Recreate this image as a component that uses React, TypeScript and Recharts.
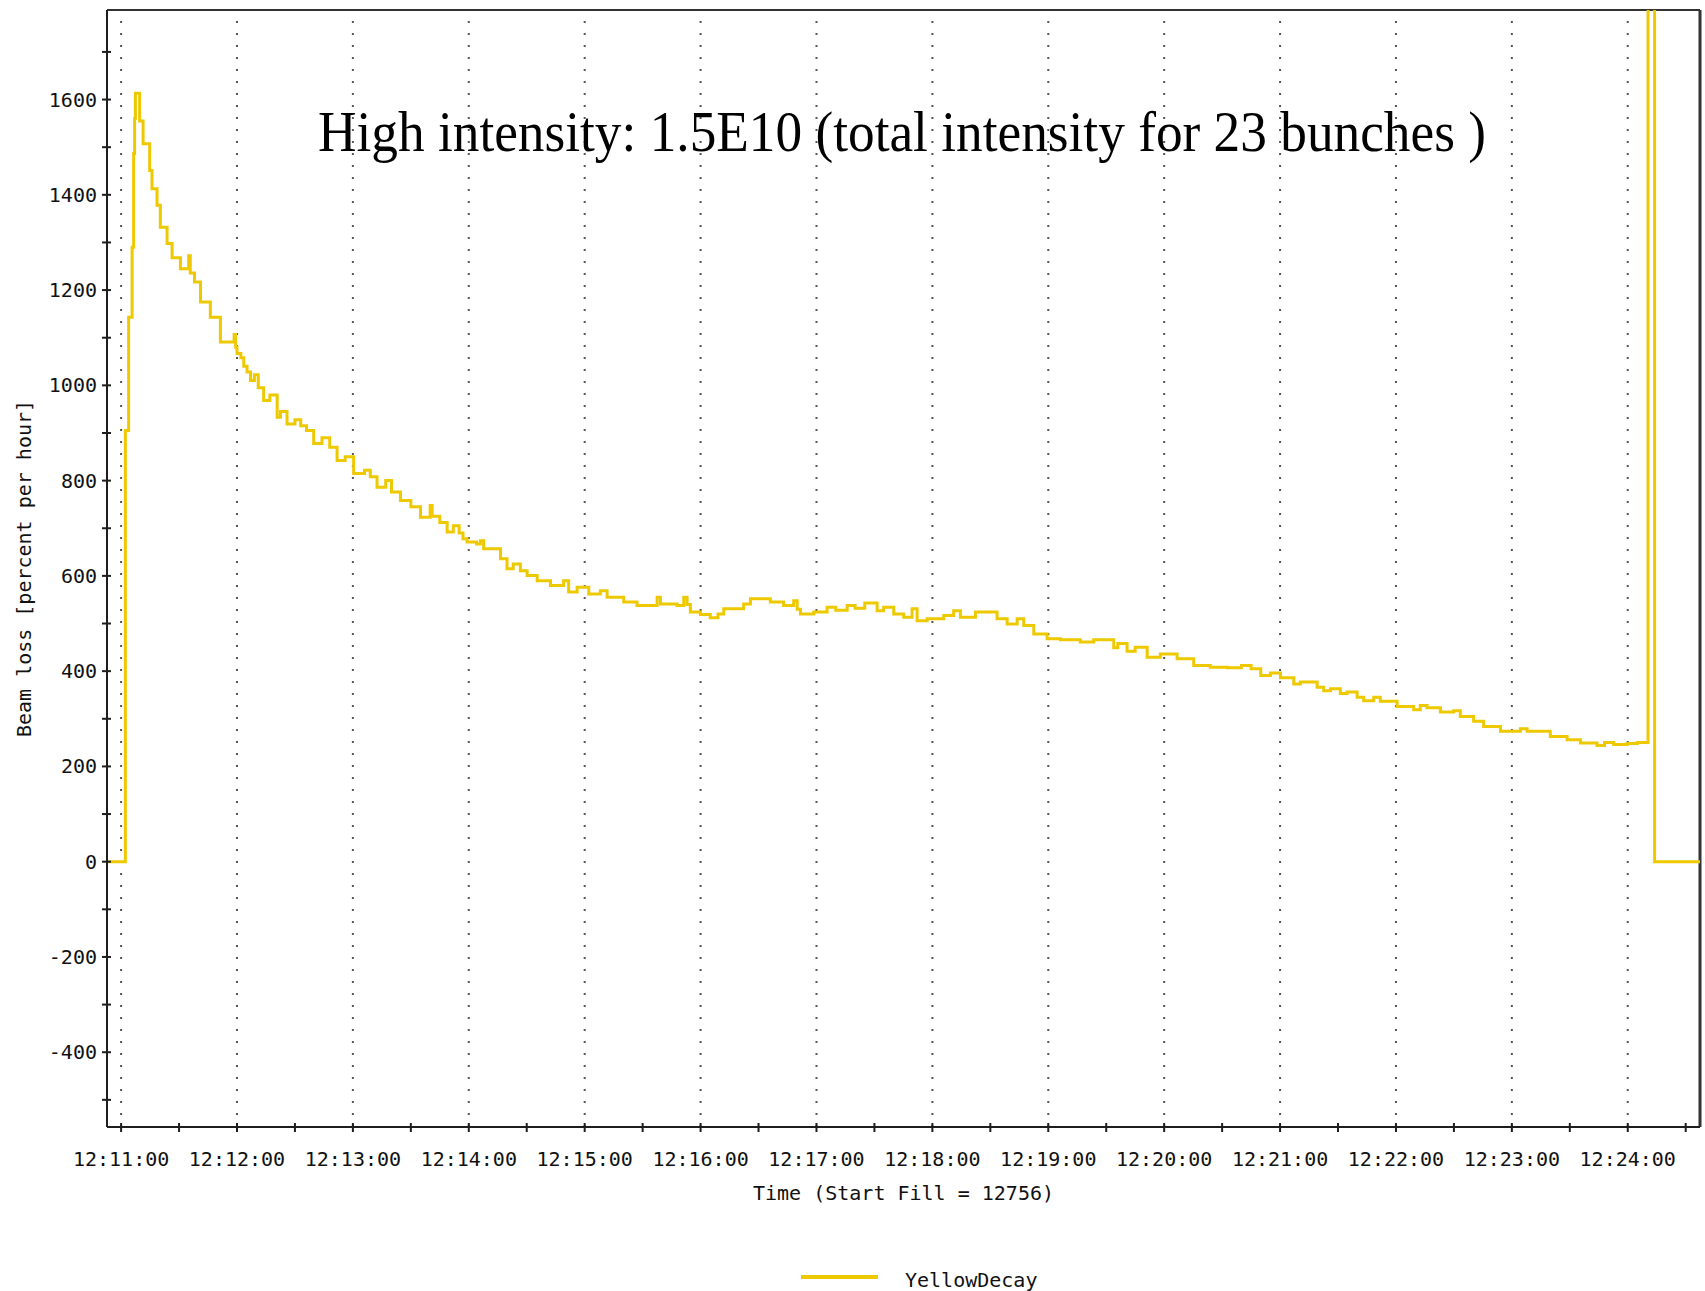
import { Label, Legend, Line, LineChart, ReferenceLine, XAxis, YAxis } from "recharts";

// seconds after 12:11:00 and beam loss [%/h] (step trace)
const TIME_S = [
  -7.3, 2.2, 3.9, 5.7, 6.5, 7.0, 7.4, 9.6, 11.4, 14.8, 16.0, 18.6, 20.3, 23.8, 26.4, 30.7,
  35.0, 35.8, 38.0, 41.1, 46.2, 51.4, 58.5, 59.3, 60.0, 62.0, 63.5, 65.2, 67.0, 69.0, 71.0,
  73.8, 77.0, 80.8, 82.5, 85.9, 90.0, 93.0, 96.0, 99.7, 104.0, 108.0, 111.8, 116.0, 120.4,
  126.0, 129.0, 132.5, 137.0, 140.0, 144.6, 150.0, 155.0, 160.0, 161.0, 165.0, 168.8, 172.0,
  175.0, 177.0, 179.1, 184.0, 186.0, 187.7, 196.4, 199.8, 203.0, 206.7, 210.2, 215.4, 222.3,
  229.1, 231.7, 236.1, 242.1, 248.1, 251.6, 260.2, 267.1, 277.5, 279.2, 287.8, 291.3, 293.0,
  294.7, 299.9, 305.0, 309.0, 312.0, 322.3, 325.8, 336.1, 343.0, 348.2, 350.0, 351.7, 358.6,
  365.5, 370.0, 375.9, 380.0, 385.0, 391.4, 394.8, 400.0, 405.2, 409.5, 412.1, 417.3, 425.9,
  431.0, 434.5, 442.3, 453.5, 458.7, 463.9, 467.3, 472.5, 479.4, 486.3, 496.6, 503.5, 513.9,
  516.0, 520.8, 525.0, 531.2, 538.0, 546.7, 555.3, 563.9, 572.6, 580.0, 585.0, 590.0, 595.0,
  600.2, 607.1, 610.5, 619.2, 622.6, 626.1, 631.2, 634.7, 639.9, 643.3, 648.5, 651.9, 660.6,
  669.2, 672.6, 676.1, 683.0, 689.9, 693.3, 700.2, 705.4, 714.1, 724.4, 727.9, 739.9, 748.6,
  755.5, 764.1, 768.0, 772.7, 779.7, 785.0, 790.5, 793.9, 817.4,
];
const BEAM_LOSS = [
  0, 905, 1143, 1290, 1487, 1560, 1613, 1555, 1507, 1451, 1413, 1378, 1332, 1298, 1268, 1245,
  1272, 1236, 1217, 1175, 1143, 1091, 1107, 1080, 1067, 1058, 1040, 1028, 1010, 1022, 995,
  968, 980, 933, 945, 919, 928, 915, 905, 878, 890, 870, 842, 850, 815,
  822, 808, 786, 800, 776, 758, 745, 723, 748, 725, 712, 692, 705,
  690, 678, 671, 667, 674, 657, 636, 615, 625, 611, 601, 590, 580,
  590, 566, 576, 562, 569, 555, 545, 538, 555, 541, 538, 555, 540,
  524, 519, 512, 520, 531, 541, 552, 545, 538, 548, 530, 520, 524,
  534, 528, 538, 532, 543, 527, 534, 520, 513, 531, 506, 510, 517,
  527, 513, 524, 510, 499, 510, 496, 478, 468, 466, 461, 466, 449,
  458, 442, 450, 429, 436, 426, 412, 408, 407, 412, 405, 391, 396,
  386, 373, 377, 366, 359, 363, 353, 356, 345, 338, 345, 337, 326,
  319, 328, 323, 314, 317, 305, 295, 284, 274, 279, 274, 263, 256,
  249, 244, 250, 246, 248, 250, 2400, 0, 0,
];

const MINUTE_TICKS = [0, 60, 120, 180, 240, 300, 360, 420, 480, 540, 600, 660, 720, 780];
const TIME_LABELS = [
  "12:11:00", "12:12:00", "12:13:00", "12:14:00", "12:15:00", "12:16:00", "12:17:00",
  "12:18:00", "12:19:00", "12:20:00", "12:21:00", "12:22:00", "12:23:00", "12:24:00",
];
const X_TICKS = [
  0, 30, 60, 90, 120, 150, 180, 210, 240, 270, 300, 330, 360, 390, 420, 450, 480, 510, 540,
  570, 600, 630, 660, 690, 720, 750, 780, 810,
];
const Y_TICKS = [
  -500, -400, -300, -200, -100, 0, 100, 200, 300, 400, 500, 600, 700, 800, 900, 1000, 1100,
  1200, 1300, 1400, 1500, 1600, 1700,
];

const X_DOMAIN: [number, number] = [-7.3, 817.4];
const Y_DOMAIN: [number, number] = [-557, 1788];

const TITLE = "High intensity: 1.5E10 (total intensity for 23 bunches )";

const YELLOW = "#eec900";
const AXIS = "#1e1e1e";
const DOTS = "#555";
const MONO = "'DejaVu Sans Mono', 'Liberation Mono', monospace";

const data = TIME_S.map((t, i) => ({ t, loss: BEAM_LOSS[i] }));

function TimeTick({ x, y, payload }: any) {
  const i = MINUTE_TICKS.indexOf(payload.value);
  return (
    <g>
      <line x1={x} x2={x} y1={y - 4} y2={y + 5} stroke={AXIS} strokeWidth={2} />
      {i >= 0 && (
        <text x={x} y={y + 39} textAnchor="middle" fontFamily={MONO} fontSize={20} fill="#111">
          {TIME_LABELS[i]}
        </text>
      )}
    </g>
  );
}

function LossTick({ x, y, payload }: any) {
  const v = payload.value as number;
  return (
    <g>
      <line x1={x - 5} x2={x + 4} y1={y} y2={y} stroke={AXIS} strokeWidth={2} />
      {v % 200 === 0 && (
        <text x={x - 10} y={y + 7} textAnchor="end" fontFamily={MONO} fontSize={20} fill="#111">
          {v}
        </text>
      )}
    </g>
  );
}

export default function App() {
  return (
    <div style={{ position: "absolute", left: 0, top: 0, width: 1705, height: 1291, background: "#fff" }}>
      <LineChart width={1705} height={1291} data={data} margin={{ top: 10, right: 5, bottom: 104, left: 0 }}>
        <XAxis
          type="number"
          dataKey="t"
          domain={X_DOMAIN}
          ticks={X_TICKS}
          interval={0}
          allowDataOverflow
          height={60}
          tickSize={0}
          tickMargin={0}
          tickLine={false}
          axisLine={{ stroke: AXIS, strokeWidth: 2 }}
          tick={(p: any) => <TimeTick {...p} />}
        >
          <Label
            content={({ viewBox }: any) => (
              <text
                x={viewBox.x + viewBox.width / 2}
                y={viewBox.y + 73}
                textAnchor="middle"
                fontFamily={MONO}
                fontSize={20}
                fill="#111"
              >
                Time (Start Fill = 12756)
              </text>
            )}
          />
        </XAxis>
        <YAxis
          type="number"
          domain={Y_DOMAIN}
          ticks={Y_TICKS}
          interval={0}
          allowDataOverflow
          width={107}
          tickSize={0}
          tickMargin={0}
          tickLine={false}
          axisLine={{ stroke: AXIS, strokeWidth: 2 }}
          tick={(p: any) => <LossTick {...p} />}
        >
          <Label
            content={({ viewBox }: any) => {
              const cx = viewBox.x + 31;
              const cy = viewBox.y + viewBox.height / 2;
              return (
                <text
                  x={cx}
                  y={cy}
                  transform={`rotate(-90, ${cx}, ${cy})`}
                  textAnchor="middle"
                  fontFamily={MONO}
                  fontSize={20}
                  fill="#111"
                >
                  Beam loss [percent per hour]
                </text>
              );
            }}
          />
        </YAxis>
        {MINUTE_TICKS.map((m) => (
          <ReferenceLine key={m} x={m} stroke={DOTS} strokeWidth={2} strokeDasharray="2 10" />
        ))}
        <ReferenceLine y={Y_DOMAIN[1]} stroke="#333" strokeWidth={2} />
        <ReferenceLine x={X_DOMAIN[1]} stroke="#333" strokeWidth={3} />
        <Line
          type="stepAfter"
          dataKey="loss"
          name="YellowDecay"
          stroke={YELLOW}
          strokeWidth={3}
          dot={false}
          activeDot={false}
          isAnimationActive={false}
        />
        <Legend
          verticalAlign="middle"
          align="center"
          layout="horizontal"
          wrapperStyle={{ top: 1262, left: 0, width: 1705, height: 30 }}
          content={({ payload }: any) => (
            <svg width={1705} height={30} style={{ display: "block" }}>
              {(payload || []).map((entry: any) => (
                <g key={entry.value}>
                  <line x1={801} x2={878} y1={15} y2={15} stroke={entry.color} strokeWidth={4} />
                  <text x={905} y={25} fontFamily={MONO} fontSize={20} fill="#111">
                    {entry.value}
                  </text>
                </g>
              ))}
            </svg>
          )}
        />
      </LineChart>
      <div
        style={{
          position: "absolute",
          left: 902,
          top: 106,
          transform: "translateX(-50%) scaleY(1.07)",
          whiteSpace: "nowrap",
          fontFamily: "'Liberation Serif', 'Times New Roman', serif",
          fontSize: 53.3,
          lineHeight: 1,
          color: "#000",
        }}
      >
        {TITLE}
      </div>
    </div>
  );
}
